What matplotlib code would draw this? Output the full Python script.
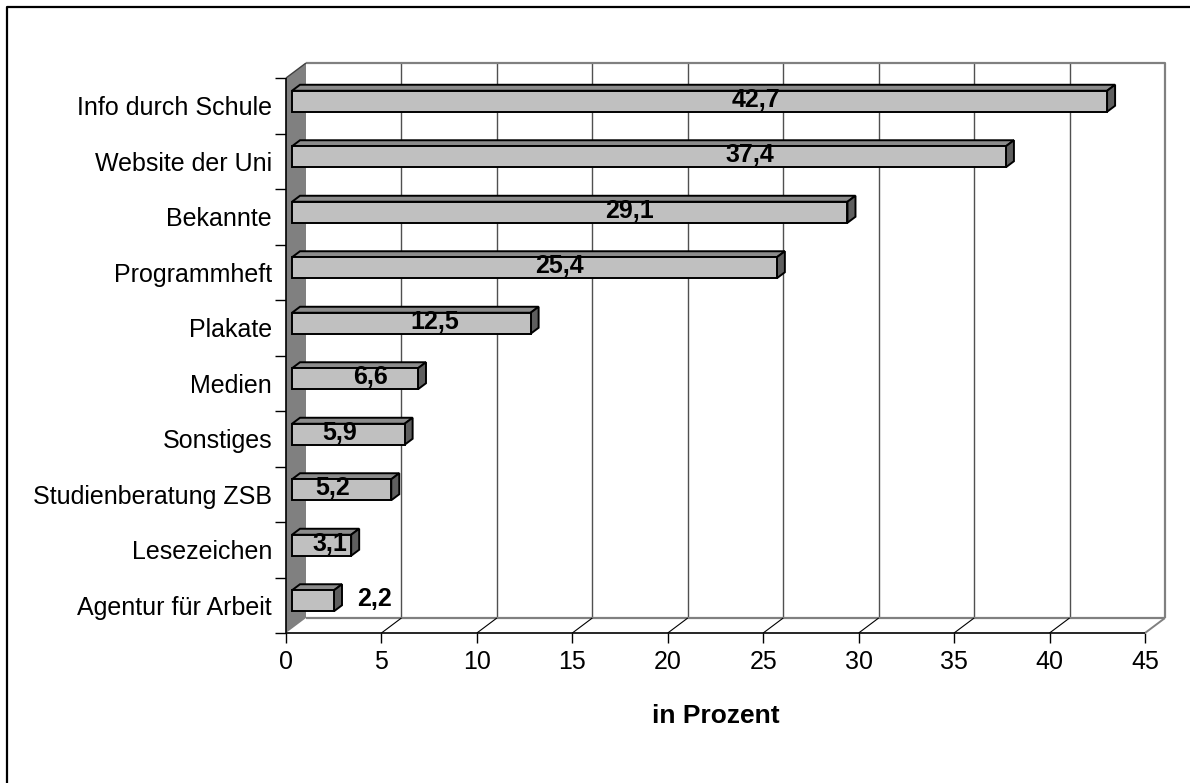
import matplotlib
matplotlib.use("Agg")
import matplotlib.pyplot as plt
from matplotlib.patches import Polygon
from matplotlib.lines import Line2D

plt.rcParams['font.family'] = ['Liberation Sans', 'DejaVu Sans']

# ---------------- data ----------------
categories = ["Info durch Schule", "Website der Uni", "Bekannte", "Programmheft",
              "Plakate", "Medien", "Sonstiges", "Studienberatung ZSB",
              "Lesezeichen", "Agentur für Arbeit"]
values = [42.7, 37.4, 29.1, 25.4, 12.5, 6.6, 5.9, 5.2, 3.1, 2.2]
x_ticks = [0, 5, 10, 15, 20, 25, 30, 35, 40, 45]
x_label = "in Prozent"

# label x-positions (data units along the bar front face), as placed in the original
label_x = [24.3, 24.0, 17.7, 14.0, 7.5, 4.1, 2.5, 2.15, 2.0, 4.3]

# ---------------- layout ----------------
W, H = 1190, 783
FS = 18
fig = plt.figure(figsize=(W / 100, H / 100), dpi=100)
ax_left, ax_right, ax_top, ax_bottom = 286, 1145, 78, 633
ax = fig.add_axes([ax_left / W, 1 - ax_bottom / H, (ax_right - ax_left) / W, (ax_bottom - ax_top) / H])
XMAX = x_ticks[-1]
N = len(categories)
ax.set_xlim(0, XMAX)
ax.set_ylim(0, N)
ax.patch.set_visible(False)
for s in ax.spines.values():
    s.set_visible(False)

PX_X = (ax_right - ax_left) / XMAX
PX_Y = (ax_bottom - ax_top) / N
DX = 20 / PX_X
DY = 15 / PX_Y


def P(x, y, f):
    return (x + f * DX, y + f * DY)


def line(pts, **kw):
    xs = [p[0] for p in pts]
    ys = [p[1] for p in pts]
    ax.add_line(Line2D(xs, ys, clip_on=False, solid_capstyle='butt', **kw))


GRAY = '#808080'
# back wall
ax.add_patch(Polygon([P(0, 0, 1), P(XMAX, 0, 1), P(XMAX, N, 1), P(0, N, 1)],
                     closed=True, fc='white', ec='none', clip_on=False, zorder=1))
for xv in x_ticks[1:-1]:
    line([P(xv, 0, 1), P(xv, N, 1)], color='#505050', lw=1.0, zorder=2)
line([P(0, N, 1), P(XMAX, N, 1), P(XMAX, 0, 1)], color=GRAY, lw=1.6, zorder=2)
# floor
line([P(0, 0, 1), P(XMAX, 0, 1)], color=GRAY, lw=1.6, zorder=2)
line([P(XMAX, 0, 0), P(XMAX, 0, 1)], color=GRAY, lw=1.4, zorder=2)
for xv in x_ticks[1:-1]:
    line([P(xv, 0, 0), P(xv, 0, 1)], color='black', lw=0.8, zorder=2)
line([P(0, 0, 0), P(XMAX, 0, 0)], color='black', lw=1.2, zorder=3)
# left wall
ax.add_patch(Polygon([P(0, 0, 0), P(0, N, 0), P(0, N, 1), P(0, 0, 1)],
                     closed=True, fc=GRAY, ec='none', clip_on=False, zorder=3))
line([P(0, N, 0), P(0, N, 1)], color='#404040', lw=1.0, zorder=3)
line([P(0, 0, 0), P(0, N, 0)], color='black', lw=1.2, zorder=4)

# ticks
ax.set_xticks(x_ticks)
ax.set_xticklabels([str(t) for t in x_ticks])
ax.tick_params(axis='x', direction='out', length=7, width=1, pad=5, labelsize=FS, colors='black')
ax.set_yticks(range(N + 1))
ax.set_yticklabels([])
ax.set_yticks([N - 0.5 - i for i in range(N)], minor=True)
ax.set_yticklabels(categories, minor=True)
ax.tick_params(axis='y', which='major', direction='out', length=8, width=1)
ax.tick_params(axis='y', which='minor', length=0, pad=10, labelsize=FS)

# bars
f0, f1 = 0.3, 0.7
hh = 10.5 / PX_Y
for i, v in enumerate(values):
    yc = N - 0.5 - i
    top = [P(0, yc + hh, f0), P(v, yc + hh, f0), P(v, yc + hh, f1), P(0, yc + hh, f1)]
    side = [P(v, yc - hh, f0), P(v, yc - hh, f1), P(v, yc + hh, f1), P(v, yc + hh, f0)]
    front = [P(0, yc - hh, f0), P(v, yc - hh, f0), P(v, yc + hh, f0), P(0, yc + hh, f0)]
    for pts, col in ((top, '#8c8c8c'), (side, '#5f5f5f'), (front, '#c0c0c0')):
        ax.add_patch(Polygon(pts, closed=True, fc=col, ec='black', lw=1.4,
                             joinstyle='miter', clip_on=False, zorder=5))
    lx, ly = P(label_x[i], yc, f0)
    ax.text(lx, ly - 5.5 / PX_Y, f"{v:.1f}".replace('.', ','), ha='center', va='baseline',
            fontsize=FS, fontweight='bold', color='black', zorder=6)

fig.text(((ax_left + ax_right) / 2) / W, 1 - 723 / H, x_label, ha='center', va='baseline',
         fontsize=19, fontweight='bold')

# outer frame (top and left visible)
fig.add_artist(Line2D([6.5 / W, 6.5 / W, 1], [0, 1 - 6.5 / H, 1 - 6.5 / H],
                      transform=fig.transFigure, color='black', lw=1.6))

fig.savefig('out.png', dpi=100)
